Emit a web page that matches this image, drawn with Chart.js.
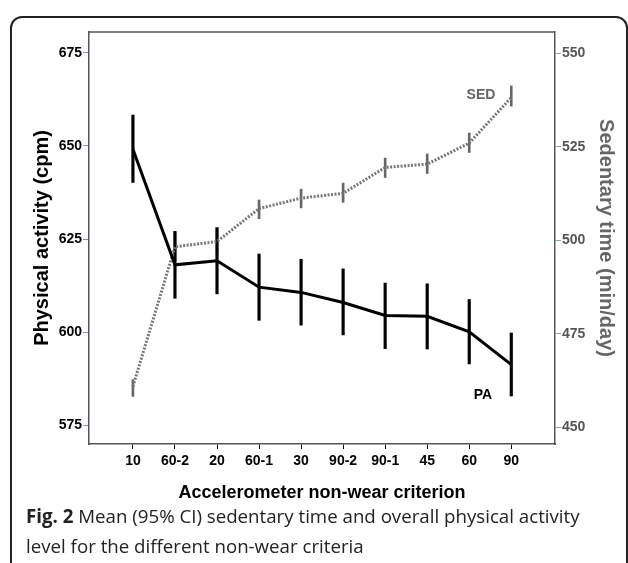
<!DOCTYPE html>
<html>
<head>
<meta charset="utf-8">
<script src="https://cdn.jsdelivr.net/npm/chart.js@4.4.1/dist/chart.umd.min.js"></script>
<style>
html, body { margin: 0; padding: 0; background: #fff; }
#wrap { position: relative; width: 628px; height: 563px; overflow: hidden; }
#frame { position: absolute; left: 10px; top: 16px; width: 614px; height: 620px; border: 2px solid #222; border-radius: 12px; }
#chart { position: absolute; left: 0; top: 0; }
.lbl { position: absolute; font: bold 14px "Liberation Sans", Arial, sans-serif; transform: translate(-50%, -50%); white-space: nowrap; }
#caption { position: absolute; left: 26px; top: 501px; font: 18.7px "Open Sans", sans-serif; color: #222; line-height: 30px; white-space: nowrap; }
</style>
</head>
<body>
<div id="wrap">
  <div id="frame"></div>
  <canvas id="chart" width="628" height="563"></canvas>
  <div class="lbl" style="left:481px; top:94px; color:#666;">SED</div>
  <div class="lbl" style="left:483px; top:394px; color:#000;">PA</div>
  <div id="caption"><b>Fig. 2</b> Mean (95% CI) sedentary time and overall physical activity<br>level for the different non-wear criteria</div>
</div>
<script>
// criteria on the x axis
const categories = ['10', '60-2', '20', '60-1', '30', '90-2', '90-1', '45', '60', '90'];

// physical activity (cpm), mean and 95% CI
const paMean = [649.1, 618.1, 619.2, 612.1, 610.7, 608.0, 604.5, 604.3, 600.1, 591.3];
const paLow  = [640.2, 609.1, 610.3, 603.2, 601.9, 599.3, 595.6, 595.5, 591.5, 582.9];
const paHigh = [658.3, 627.1, 628.1, 621.0, 619.6, 617.0, 613.2, 613.0, 608.8, 599.8];

// sedentary time (min/day), mean and 95% CI
const sedMean = [461.0, 498.3, 499.7, 508.5, 511.3, 512.6, 519.5, 520.4, 526.0, 538.2];
const sedLow  = [458.3, 494.5, 496.3, 505.8, 508.7, 510.2, 516.8, 517.9, 523.5, 535.9];
const sedHigh = [462.8, 502.1, 503.1, 510.8, 513.7, 515.3, 522.0, 523.1, 528.7, 541.3];

// axis tick labels
const paTicks = [575, 600, 625, 650, 675];
const sedTicks = [450, 475, 500, 525, 550];

const fontFamily = '"Liberation Sans", Arial, sans-serif';

// closes the plot box at the top
const boxTop = {
    id: 'boxTop',
    beforeDatasetsDraw(chart) {
        const { ctx, chartArea } = chart;
        ctx.save();
        ctx.strokeStyle = '#555';
        ctx.lineWidth = 1.5;
        ctx.beginPath();
        ctx.moveTo(chartArea.left, chartArea.top);
        ctx.lineTo(chartArea.right, chartArea.top);
        ctx.stroke();
        ctx.restore();
    }
};

new Chart(document.getElementById('chart'), {
    type: 'line',
    data: {
        datasets: [{
            label: 'PA',
            data: paMean.map((v, i) => ({ x: i, y: v })),
            yAxisID: 'yPA',
            borderColor: '#000',
            borderWidth: 3,
            pointRadius: 0,
            order: 0
        }, {
            label: 'SED',
            data: sedMean.map((v, i) => ({ x: i, y: v })),
            yAxisID: 'ySED',
            borderColor: '#777',
            borderWidth: 3,
            borderDash: [2, 1.5],
            pointRadius: 0,
            order: 1
        }, {
            type: 'bar',
            label: 'PA CI',
            data: paLow.map((v, i) => ({ x: i, y: [v, paHigh[i]] })),
            yAxisID: 'yPA',
            backgroundColor: '#000',
            barThickness: 2.5,
            grouped: false,
            order: 2
        }, {
            type: 'bar',
            label: 'SED CI',
            data: sedLow.map((v, i) => ({ x: i, y: [v, sedHigh[i]] })),
            yAxisID: 'ySED',
            backgroundColor: '#666',
            barThickness: 2,
            grouped: false,
            order: 3
        }]
    },
    options: {
        responsive: false,
        animation: false,
        layout: { padding: { top: 32, left: 0, right: 0, bottom: 0 } },
        plugins: {
            legend: { display: false },
            tooltip: { enabled: false }
        },
        scales: {
            x: {
                type: 'linear',
                offset: false,
                min: -1.045,
                max: 10.04,
                afterBuildTicks: s => { s.ticks = categories.map((c, i) => ({ value: i })); },
                afterFit: s => { s.height = 119; },
                ticks: {
                    callback: v => categories[v],
                    autoSkip: false,
                    maxRotation: 0,
                    padding: 4,
                    color: '#000',
                    font: { family: fontFamily, size: 14, weight: 'bold' }
                },
                grid: { offset: false, drawOnChartArea: false, tickLength: 5, color: '#000' },
                border: { color: '#555', width: 1.5 },
                title: {
                    display: true,
                    text: 'Accelerometer non-wear criterion',
                    color: '#000',
                    font: { family: fontFamily, size: 18, weight: 'bold' },
                    padding: { top: 0, bottom: 59 }
                }
            },
            yPA: {
                position: 'left',
                min: 570,
                max: 680.6,
                afterBuildTicks: s => { s.ticks = paTicks.map(v => ({ value: v })); },
                afterFit: s => { s.width = 89; },
                ticks: {
                    padding: 1,
                    color: '#000',
                    font: { family: fontFamily, size: 14, weight: 'bold' }
                },
                grid: { drawOnChartArea: false, tickLength: 6, color: '#7b8fd6' },
                border: { color: '#555', width: 1.5 },
                title: {
                    display: true,
                    text: 'Physical activity (cpm)',
                    color: '#000',
                    font: { family: fontFamily, size: 20, weight: 'bold' },
                    padding: { top: 30, bottom: 0 }
                }
            },
            ySED: {
                position: 'right',
                min: 445.6,
                max: 555.7,
                afterBuildTicks: s => { s.ticks = sedTicks.map(v => ({ value: v })); },
                afterFit: s => { s.width = 73; },
                ticks: {
                    padding: 1,
                    color: '#555',
                    font: { family: fontFamily, size: 14, weight: 'bold' }
                },
                grid: { drawOnChartArea: false, tickLength: 6, color: '#6cc47a' },
                border: { color: '#555', width: 1.5 },
                title: {
                    display: true,
                    text: 'Sedentary time (min/day)',
                    color: '#666',
                    font: { family: fontFamily, size: 20, weight: 'bold' },
                    padding: { top: 10, bottom: 0 }
                }
            }
        }
    },
    plugins: [boxTop]
});
</script>
</body>
</html>
